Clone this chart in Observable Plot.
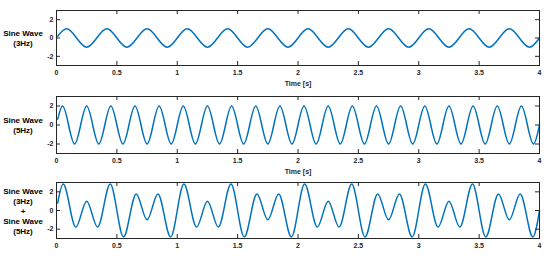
<!DOCTYPE html>
<html><head><meta charset="utf-8">
<script src="https://cdn.jsdelivr.net/npm/d3@7"></script>
<script src="https://cdn.jsdelivr.net/npm/@observablehq/plot@0.6"></script>
<style>
html,body{margin:0;padding:0;background:#fff;}
#chart{position:relative;width:550px;height:271px;overflow:hidden;}
#chart svg{position:absolute;left:0;}
</style></head><body><div id="chart"></div>
<script>
// Tick values
const xTicks = [0, 0.5, 1, 1.5, 2, 2.5, 3, 3.5, 4];
const yTicks = [-2, 0, 2];

// Panel labels
const label3 = "Sine Wave\n(3Hz)";
const label5 = "Sine Wave\n(5Hz)";
const labelSum = "Sine Wave\n(3Hz)\n+\nSine Wave\n(5Hz)";
const axisTitle = "Time [s]";

// 3 Hz wave: start, peaks/troughs, end
const t3 = [0.01, 0.083, 0.25, 0.417, 0.583, 0.75, 0.917, 1.083, 1.25, 1.417, 1.583, 1.75, 1.917,
  2.083, 2.25, 2.417, 2.583, 2.75, 2.917, 3.083, 3.25, 3.417, 3.583, 3.75, 3.917, 4];
const v3 = [0.19, 1, -1, 1, -1, 1, -1, 1, -1, 1, -1, 1, -1,
  1, -1, 1, -1, 1, -1, 1, -1, 1, -1, 1, -1, 0];

// 5 Hz wave
const t5 = [0.01, 0.05, 0.15, 0.25, 0.35, 0.45, 0.55, 0.65, 0.75, 0.85, 0.95,
  1.05, 1.15, 1.25, 1.35, 1.45, 1.55, 1.65, 1.75, 1.85, 1.95,
  2.05, 2.15, 2.25, 2.35, 2.45, 2.55, 2.65, 2.75, 2.85, 2.95,
  3.05, 3.15, 3.25, 3.35, 3.45, 3.55, 3.65, 3.75, 3.85, 3.95, 4];
const v5 = [0.62, 2, -2, 2, -2, 2, -2, 2, -2, 2, -2,
  2, -2, 2, -2, 2, -2, 2, -2, 2, -2,
  2, -2, 2, -2, 2, -2, 2, -2, 2, -2,
  2, -2, 2, -2, 2, -2, 2, -2, 2, -2, 0];

// Sum wave
const tS = [0.01, 0.055, 0.16, 0.25, 0.34, 0.445, 0.555, 0.66, 0.75, 0.84, 0.945,
  1.055, 1.16, 1.25, 1.34, 1.445, 1.555, 1.66, 1.75, 1.84, 1.945,
  2.055, 2.16, 2.25, 2.34, 2.445, 2.555, 2.66, 2.75, 2.84, 2.945,
  3.055, 3.16, 3.25, 3.34, 3.445, 3.555, 3.66, 3.75, 3.84, 3.945, 4];
const vS = [0.81, 2.83, -1.78, 1, -1.78, 2.83, -2.83, 1.78, -1, 1.78, -2.83,
  2.83, -1.78, 1, -1.78, 2.83, -2.83, 1.78, -1, 1.78, -2.83,
  2.83, -1.78, 1, -1.78, 2.83, -2.83, 1.78, -1, 1.78, -2.83,
  2.83, -1.78, 1, -1.78, 2.83, -2.83, 1.78, -1, 1.78, -2.83, 0];

const W = 550, ML = 56, MR = 11, TICK = 4;
const FONT = "'Liberation Sans', Arial, sans-serif";
const AX = "#262626";

function panel({ts, vs, label, top, height, mt, mb, showTitle}) {
  const data = ts.map((t, i) => ({t, v: vs[i]}));
  const innerH = height - mt - mb, innerW = W - ML - MR;
  const marks = [
    Plot.line(data, {x: "t", y: "v", stroke: "#0072BD", strokeWidth: 1.5, curve: "monotone-x"}),
    Plot.frame({stroke: AX, strokeWidth: 1}),
    Plot.tickX(xTicks, {x: d => d, insetTop: innerH - TICK, stroke: AX}),
    Plot.tickX(xTicks, {x: d => d, insetBottom: innerH - TICK, stroke: AX}),
    Plot.tickY(yTicks, {y: d => d, insetRight: innerW - TICK, stroke: AX}),
    Plot.tickY(yTicks, {y: d => d, insetLeft: innerW - TICK, stroke: AX}),
    Plot.axisX(xTicks, {anchor: "bottom", tickSize: 0, tickPadding: 5, tickFormat: d => String(d),
      fontSize: 7, fontWeight: "bold", fill: AX, label: null}),
    Plot.axisY(yTicks, {anchor: "left", tickSize: 0, tickPadding: 3, tickFormat: d => String(d),
      fontSize: 7, fontWeight: "bold", fill: AX, label: null}),
    Plot.text([label], {text: d => d, frameAnchor: "left", dx: -33.5, textAnchor: "middle",
      lineAnchor: "middle", lineHeight: 1.25, fontSize: 8, fontWeight: "bold", fill: "#000"})
  ];
  if (showTitle) marks.push(Plot.text([axisTitle], {text: d => d, frameAnchor: "bottom", dy: 18.5,
    lineAnchor: "middle", fontSize: 7, fontWeight: "bold", fill: AX}));
  const svg = Plot.plot({
    width: W, height, marginTop: mt, marginBottom: mb, marginLeft: ML, marginRight: MR,
    x: {domain: [0, 4]}, y: {domain: [-3, 3]},
    style: {fontFamily: FONT, background: "transparent", overflow: "visible"},
    marks
  });
  svg.style.top = top + "px";
  document.getElementById("chart").appendChild(svg);
}

panel({ts: t3, vs: v3, label: label3, top: 0, height: 88, mt: 10, mb: 23, showTitle: true});
panel({ts: t5, vs: v5, label: label5, top: 88, height: 87, mt: 8, mb: 22, showTitle: true});
panel({ts: tS, vs: vS, label: labelSum, top: 175, height: 96, mt: 7, mb: 33, showTitle: false});
</script></body></html>
